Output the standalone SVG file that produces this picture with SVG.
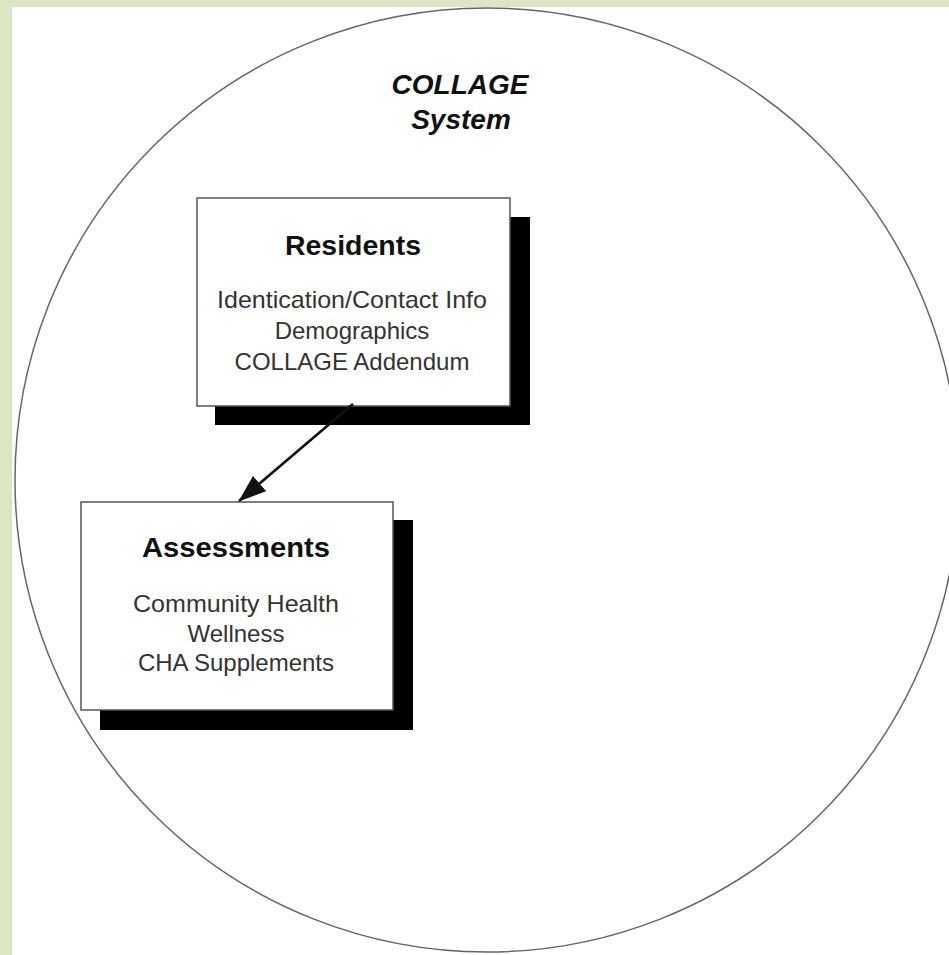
<svg xmlns="http://www.w3.org/2000/svg" width="949" height="955" viewBox="0 0 949 955">
<defs>
<style>
.frame{fill:#dce5c6}
.shadow{fill:#000}
.box{fill:#fff;stroke:#555;stroke-width:1.5}
.title{font-family:"Liberation Sans",Arial,sans-serif;font-weight:bold;font-size:27px;fill:#111;text-anchor:middle}
.body{font-family:"Liberation Sans",Arial,sans-serif;font-size:24px;fill:#333;text-anchor:middle}
.sys{font-family:"Liberation Sans",Arial,sans-serif;font-weight:bold;font-style:italic;font-size:28px;fill:#111;text-anchor:middle}
.conn{stroke:#111;stroke-width:2.5;fill:none}
</style>
<marker id="arrow" markerWidth="28" markerHeight="20" refX="27" refY="10" orient="auto" markerUnits="userSpaceOnUse" viewBox="0 0 28 20">
<path d="M0,0 L28,10 L0,20 z" fill="#111"/>
</marker>
</defs>
<rect x="0" y="0" width="949" height="955" fill="#fff"/>
<rect class="frame" x="0" y="0" width="949" height="7"/>
<rect class="frame" x="0" y="0" width="12" height="955"/>
<g id="system">
<circle cx="487" cy="480" r="472" fill="none" stroke="#666" stroke-width="1.5"/>
<text class="sys" x="460" y="94">COLLAGE</text>
<text class="sys" x="461" y="129">System</text>
</g>
<g id="residents">
<rect class="shadow" x="215" y="217" width="315" height="208"/>
<rect class="box" x="197" y="198" width="313" height="208"/>
<text class="title" x="353" y="255" textLength="136" lengthAdjust="spacingAndGlyphs">Residents</text>
<text class="body" x="352" y="308" textLength="270" lengthAdjust="spacingAndGlyphs">Identication/Contact Info</text>
<text class="body" x="352" y="339">Demographics</text>
<text class="body" x="352" y="370">COLLAGE Addendum</text>
</g>
<g id="assessments">
<rect class="shadow" x="100" y="520" width="313" height="210"/>
<rect class="box" x="81" y="502" width="312" height="208"/>
<text class="title" x="236" y="557" textLength="188" lengthAdjust="spacingAndGlyphs">Assessments</text>
<text class="body" x="236" y="612" textLength="206" lengthAdjust="spacingAndGlyphs">Community Health</text>
<text class="body" x="236" y="642">Wellness</text>
<text class="body" x="236" y="671">CHA Supplements</text>
</g>
<g id="connectors">
<path class="conn" d="M353,404 L239,501" marker-end="url(#arrow)"/>
</g>
</svg>
